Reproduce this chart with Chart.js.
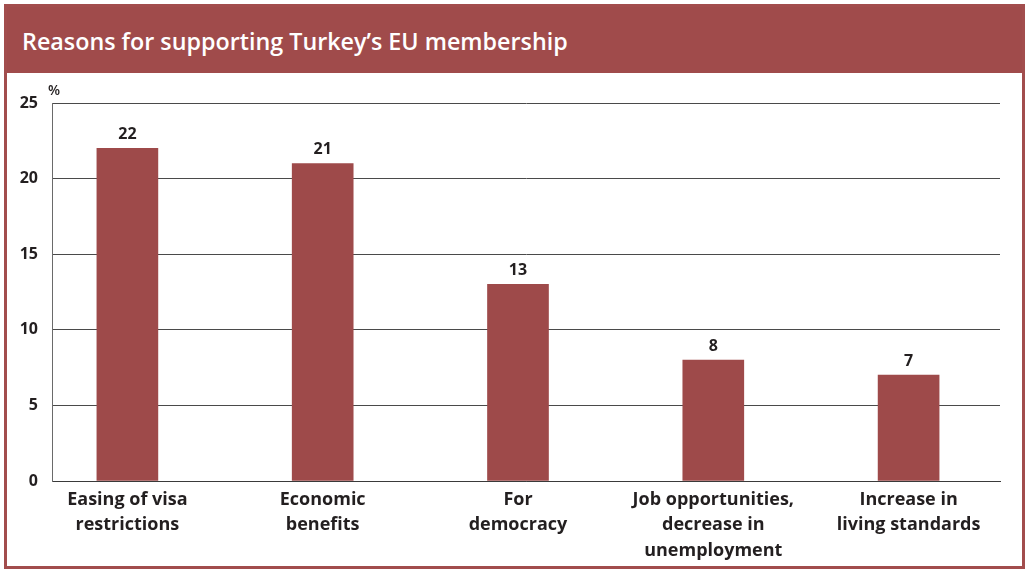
<!DOCTYPE html>
<html>
<head>
<meta charset="utf-8">
<script src="https://cdn.jsdelivr.net/npm/chart.js@4.4.1/dist/chart.umd.min.js"></script>
<style>
  html, body { margin: 0; padding: 0; background: #ffffff; }
  body { width: 1025px; height: 569px; position: relative; overflow: hidden; font-family: "Open Sans", Lato, sans-serif; }
  .frame { position: absolute; left: 4px; top: 4px; width: 1015px; height: 559px; border: 3px solid #a24d4d; box-sizing: content-box; }
  .band { position: absolute; left: 0; top: 0; right: 0; height: 66px; background: #a04b4b; }
  .band h1 { margin: 0; position: absolute; left: 15px; top: 19px; color: #ffffff; font: 600 23.3px "Open Sans", Lato, sans-serif; line-height: 30px; }
  .plot { position: absolute; left: 0; top: 69px; width: 1005px; height: 488px; }
</style>
</head>
<body>
<div class="frame">
  <div class="band"><h1>Reasons for supporting Turkey’s EU membership</h1></div>
  <div class="plot"><canvas id="c" width="1005" height="488"></canvas></div>
</div>
<script>
// Survey answers: share of respondents (%) giving each reason
const categories = [
  ["Easing of visa", "restrictions"],
  ["Economic", "benefits"],
  ["For", "democracy"],
  ["Job opportunities,", "decrease in", "unemployment"],
  ["Increase in", "living standards"]
];
const values = [22, 21, 13, 8, 7];
const yTicks = [0, 5, 10, 15, 20, 25];

const barColor = '#9e4a4a';
const inkColor = '#231f20';
const fontFamily = '"Open Sans", Lato, sans-serif';

// Value labels above each bar and the unit sign above the value axis
const annotate = {
  id: 'annotate',
  afterDatasetsDraw(chart) {
    const ctx = chart.ctx;
    ctx.save();
    ctx.fillStyle = inkColor;
    ctx.textAlign = 'center';
    ctx.textBaseline = 'alphabetic';
    ctx.font = '700 16px ' + fontFamily;
    chart.getDatasetMeta(0).data.forEach((bar, i) => {
      ctx.fillText(String(values[i]), bar.x, bar.y - 9);
    });
    const y = chart.scales.y;
    ctx.font = '600 14px ' + fontFamily;
    ctx.textAlign = 'left';
    ctx.fillText('%', y.right - 4, y.top - 8);
    ctx.restore();
  }
};

new Chart(document.getElementById('c'), {
  type: 'bar',
  data: {
    datasets: [{
      data: values.map((v, i) => ({ x: i, y: v })),
      backgroundColor: barColor,
      borderWidth: 0,
      barThickness: 61
    }]
  },
  options: {
    responsive: false,
    animation: false,
    layout: { padding: { left: 0, top: 27, right: 12, bottom: 0 } },
    plugins: { legend: { display: false }, tooltip: { enabled: false } },
    scales: {
      x: {
        type: 'linear',
        offset: false,
        min: -0.386,
        max: 4.468,
        afterBuildTicks(scale) {
          scale.ticks = categories.map((_, i) => ({ value: i }));
        },
        afterFit(scale) { scale.height = 83; },
        grid: { display: false, drawTicks: false },
        border: { display: true, color: '#3a3a3a', width: 1 },
        ticks: {
          autoSkip: false,
          maxRotation: 0,
          padding: 6,
          color: inkColor,
          font: { family: fontFamily, size: 18, weight: '700', lineHeight: 1.42 },
          callback: (v) => categories[v] || ''
        }
      },
      y: {
        min: 0,
        max: 25,
        afterBuildTicks(scale) {
          scale.ticks = yTicks.map(v => ({ value: v }));
        },
        afterFit(scale) { scale.width = 45; },
        grid: { color: '#4a4a4a', lineWidth: 1, drawTicks: false },
        border: { display: true, color: '#6a6a6a', width: 1 },
        ticks: {
          padding: 14,
          color: inkColor,
          font: { family: fontFamily, size: 16, weight: '700' }
        }
      }
    }
  },
  plugins: [annotate]
});
</script>
</body>
</html>
